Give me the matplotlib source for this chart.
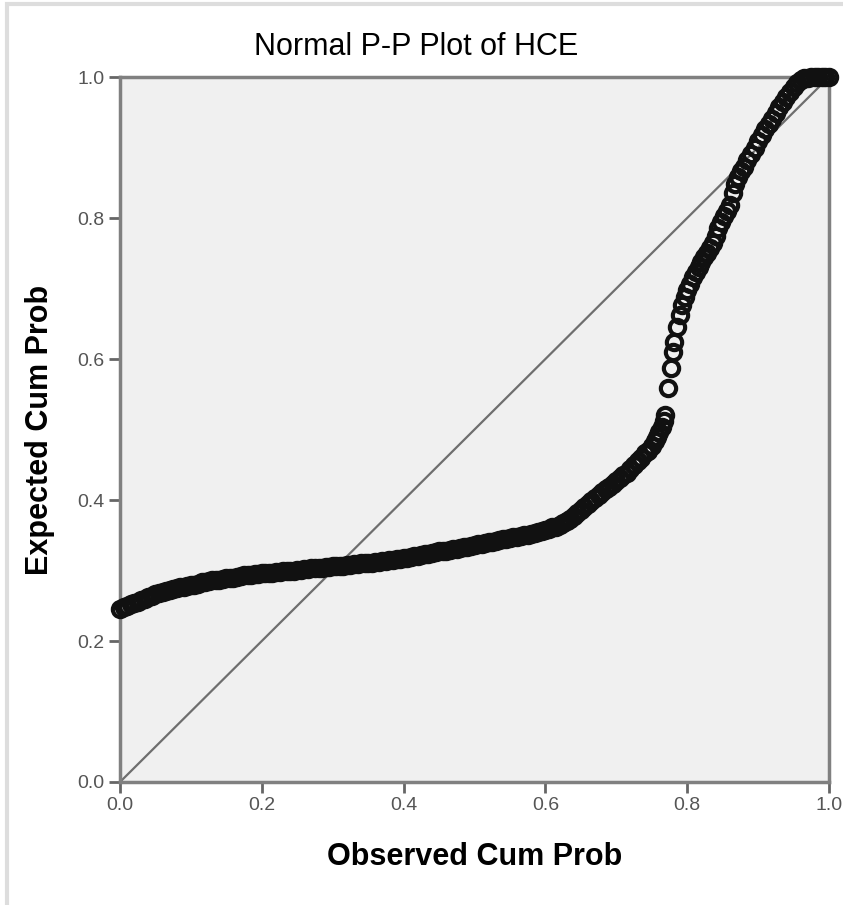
import matplotlib
matplotlib.use('Agg')
import matplotlib.pyplot as plt
from matplotlib.patches import Rectangle

plt.rcParams['font.family'] = ['Liberation Sans', 'DejaVu Sans']

# observed cumulative probability (x) and expected cumulative probability (y)
obs_cum = [0.000, 0.005, 0.010, 0.015, 0.020, 0.025, 0.030, 0.035, 0.040, 0.045,
           0.050, 0.055, 0.060, 0.065, 0.070, 0.075, 0.080, 0.085, 0.090, 0.095,
           0.100, 0.105, 0.110, 0.115, 0.120, 0.125, 0.130, 0.135, 0.140, 0.145,
           0.150, 0.155, 0.160, 0.165, 0.170, 0.175, 0.180, 0.185, 0.190, 0.195,
           0.200, 0.205, 0.210, 0.215, 0.220, 0.225, 0.230, 0.235, 0.240, 0.245,
           0.250, 0.255, 0.260, 0.265, 0.270, 0.275, 0.280, 0.285, 0.290, 0.295,
           0.300, 0.305, 0.310, 0.315, 0.320, 0.325, 0.330, 0.335, 0.340, 0.345,
           0.350, 0.355, 0.360, 0.365, 0.370, 0.375, 0.380, 0.385, 0.390, 0.395,
           0.400, 0.405, 0.410, 0.415, 0.420, 0.425, 0.430, 0.435, 0.440, 0.445,
           0.450, 0.455, 0.460, 0.465, 0.470, 0.475, 0.480, 0.485, 0.490, 0.495,
           0.500, 0.505, 0.510, 0.515, 0.520, 0.525, 0.530, 0.535, 0.540, 0.545,
           0.550, 0.555, 0.560, 0.565, 0.570, 0.575, 0.580, 0.585, 0.590, 0.595,
           0.600, 0.605, 0.610, 0.615, 0.620, 0.625, 0.630, 0.635, 0.640, 0.645,
           0.650, 0.655, 0.660, 0.665, 0.670, 0.675, 0.680, 0.685, 0.690, 0.695,
           0.700, 0.705, 0.710, 0.715, 0.720, 0.725, 0.730, 0.735, 0.740,
           0.745, 0.750, 0.754, 0.757, 0.760, 0.764, 0.767, 0.769, 0.773, 0.777,
           0.780, 0.781, 0.786, 0.790, 0.793, 0.797, 0.800, 0.804, 0.808, 0.812,
           0.816, 0.820, 0.824, 0.828, 0.832, 0.836, 0.840, 0.844, 0.848, 0.852,
           0.856, 0.860, 0.864, 0.868, 0.872, 0.876, 0.880, 0.885, 0.890, 0.895,
           0.900, 0.905, 0.910, 0.915, 0.920, 0.925, 0.930, 0.935, 0.940, 0.945,
           0.950, 0.955, 0.960, 0.965, 0.970, 0.975, 0.980, 0.985, 0.990, 0.995,
           1.000]
exp_cum = [0.245, 0.248, 0.250, 0.252, 0.254, 0.256, 0.258, 0.260, 0.262, 0.264,
           0.266, 0.268, 0.269, 0.271, 0.272, 0.274, 0.275, 0.276, 0.277, 0.278,
           0.279, 0.280, 0.281, 0.283, 0.284, 0.285, 0.286, 0.287, 0.287, 0.288,
           0.289, 0.290, 0.290, 0.291, 0.292, 0.293, 0.293, 0.294, 0.295, 0.295,
           0.296, 0.296, 0.297, 0.297, 0.298, 0.298, 0.299, 0.299, 0.300, 0.300,
           0.301, 0.301, 0.302, 0.302, 0.303, 0.303, 0.304, 0.304, 0.305, 0.305,
           0.306, 0.306, 0.307, 0.307, 0.308, 0.308, 0.309, 0.309, 0.310, 0.310,
           0.311, 0.311, 0.312, 0.312, 0.313, 0.314, 0.315, 0.315, 0.316, 0.317,
           0.318, 0.318, 0.319, 0.320, 0.321, 0.322, 0.323, 0.324, 0.325, 0.326,
           0.327, 0.327, 0.328, 0.329, 0.330, 0.331, 0.332, 0.333, 0.334, 0.335,
           0.336, 0.337, 0.338, 0.339, 0.340, 0.341, 0.342, 0.343, 0.344, 0.345,
           0.346, 0.347, 0.348, 0.349, 0.350, 0.351, 0.352, 0.353, 0.355, 0.356,
           0.358, 0.359, 0.361, 0.362, 0.364, 0.367, 0.370, 0.373, 0.377, 0.381,
           0.386, 0.390, 0.394, 0.398, 0.403, 0.407, 0.411, 0.415, 0.419, 0.423,
           0.427, 0.431, 0.435, 0.439, 0.444, 0.449, 0.455, 0.460, 0.466,
           0.470, 0.476, 0.483, 0.489, 0.496, 0.504, 0.512, 0.521, 0.559, 0.587,
           0.610, 0.624, 0.645, 0.662, 0.676, 0.688, 0.698, 0.707, 0.716, 0.723,
           0.730, 0.737, 0.744, 0.751, 0.758, 0.765, 0.775, 0.786, 0.795, 0.803,
           0.810, 0.818, 0.835, 0.848, 0.858, 0.866, 0.873, 0.882, 0.891, 0.900,
           0.909, 0.918, 0.926, 0.934, 0.941, 0.949, 0.957, 0.965, 0.972, 0.979,
           0.986, 0.992, 0.996, 0.998, 0.999, 1.000, 1.000, 1.000, 1.000, 1.000,
           1.000]

ticks = [0.0, 0.2, 0.4, 0.6, 0.8, 1.0]
tick_labels = ['0.0', '0.2', '0.4', '0.6', '0.8', '1.0']

fig = plt.figure(figsize=(8.43, 9.05), dpi=100)
ax = fig.add_axes([120/843, 1 - 782/905, 709/843, 705/905])
ax.set_facecolor('#f0f0f0')

# reference line
ax.plot([0, 1], [0, 1], color='#6e6e6e', lw=1.6, zorder=2)
ax.plot(obs_cum, exp_cum, ls='none', marker='o', ms=11, mfc='none',
        mec='#111111', mew=3.0, zorder=3, clip_on=False)

ax.set_xlim(0, 1)
ax.set_ylim(0, 1)
ax.set_xticks(ticks)
ax.set_xticklabels(tick_labels)
ax.set_yticks(ticks)
ax.set_yticklabels(tick_labels)
ax.tick_params(direction='out', length=8, width=2, color='#666666',
               labelcolor='#555555', labelsize=14, pad=3)
for sp in ax.spines.values():
    sp.set_color('#808080')
    sp.set_linewidth(2.5)

ax.set_xlabel('Observed Cum Prob', fontsize=22, fontweight='bold', labelpad=20)
ax.set_ylabel('Expected Cum Prob', fontsize=22, fontweight='bold', labelpad=16)
fig.text(416/843, 1 - 47/905, 'Normal P-P Plot of HCE', fontsize=22,
         ha='center', va='center')

# light frame around the chart
fig.add_artist(Rectangle((7/843, -0.05), 1.2, 1 - 4/905 + 0.05, fill=False,
                         edgecolor='#dddddd', lw=3, transform=fig.transFigure))

fig.savefig('out.png', dpi=100)
